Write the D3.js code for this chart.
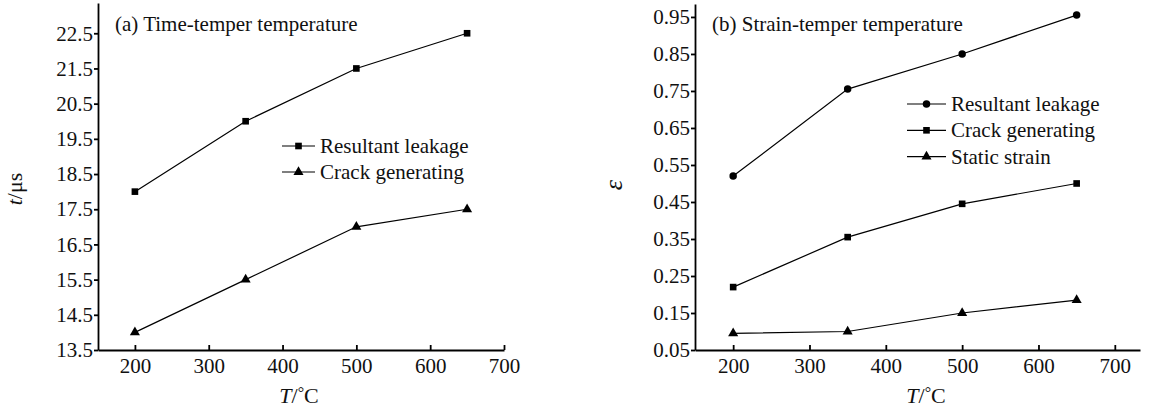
<!DOCTYPE html>
<html>
<head>
<meta charset="utf-8">
<script src="https://cdn.jsdelivr.net/npm/d3@7"></script>
<style>
  body { margin: 0; background: #fff; }
  svg { display: block; }
  .axis path, .axis line { stroke: #000; stroke-width: 1.8; }
</style>
</head>
<body>
<svg width="1152" height="413"></svg>
<script>
// x values (temper temperature, °C)
const temps = [200, 350, 500, 650];
const xTicks = [200, 300, 400, 500, 600, 700];

// panel (a) time, µs
const timeLeak = [18.0, 20.0, 21.5, 22.5];
const timeCrack = [14.0, 15.5, 17.0, 17.5];
const timeTicks = [13.5, 14.5, 15.5, 16.5, 17.5, 18.5, 19.5, 20.5, 21.5, 22.5];

// panel (b) strain
const strainLeak = [0.52, 0.755, 0.85, 0.955];
const strainCrack = [0.22, 0.355, 0.445, 0.50];
const strainStatic = [0.095, 0.10, 0.15, 0.185];
const strainTicks = [0.05, 0.15, 0.25, 0.35, 0.45, 0.55, 0.65, 0.75, 0.85, 0.95];

const serif = '"Liberation Serif", "Times New Roman", serif';
const svg = d3.select('svg');

const symbols = {
  square: d3.symbol().type(d3.symbolSquare).size(44),
  triangle: d3.symbol().type(d3.symbolTriangle).size(44),
  circle: d3.symbol().type(d3.symbolCircle).size(44)
};

function styleText(sel, size) {
  return sel.attr('font-family', serif).attr('font-size', size).attr('fill', '#111');
}

function drawPanel(p) {
  const x = d3.scaleLinear().domain(p.xDomain).range([p.left, p.right]);
  const y = d3.scaleLinear().domain(p.yDomain).range([p.bottom, p.top]);

  // axes
  const gx = svg.append('g').attr('class', 'axis')
    .attr('transform', `translate(0,${p.bottom})`)
    .call(d3.axisBottom(x).tickValues(xTicks).tickSizeInner(-5).tickSizeOuter(0).tickPadding(8));
  styleText(gx.selectAll('text'), 21);

  const gy = svg.append('g').attr('class', 'axis')
    .attr('transform', `translate(${p.left},0)`)
    .call(d3.axisLeft(y).tickValues(p.yTicks).tickFormat(d3.format(p.fmt)).tickSizeInner(4).tickSizeOuter(0).tickPadding(1));
  styleText(gy.selectAll('text'), 21);

  const line = d3.line().x(d => x(d[0])).y(d => y(d[1]));

  p.series.forEach(s => {
    const pts = temps.map((t, i) => [t, s.values[i]]);
    svg.append('path')
      .attr('d', line(pts))
      .attr('fill', 'none')
      .attr('stroke', '#000')
      .attr('stroke-width', 1.2);
    svg.append('g').selectAll('path')
      .data(pts).enter().append('path')
      .attr('d', symbols[s.symbol]())
      .attr('transform', d => `translate(${x(d[0])},${y(d[1])})`)
      .attr('fill', '#000');
  });

  // legend
  p.series.forEach((s, i) => {
    const ly = p.legend.y + i * p.legend.step;
    svg.append('line')
      .attr('x1', p.legend.x).attr('x2', p.legend.x + p.legend.len)
      .attr('y1', ly).attr('y2', ly)
      .attr('stroke', '#000').attr('stroke-width', 1.2);
    svg.append('path')
      .attr('d', symbols[s.symbol]())
      .attr('transform', `translate(${p.legend.x + p.legend.len / 2},${ly})`)
      .attr('fill', '#000');
    styleText(svg.append('text'), 21)
      .attr('x', p.legend.x + p.legend.len + 5)
      .attr('y', ly + 7)
      .text(s.name);
  });

  // title
  styleText(svg.append('text'), 21)
    .attr('x', p.left + 17).attr('y', 31)
    .text(p.title);

  // x label
  const xl = styleText(svg.append('text'), 22)
    .attr('x', p.xLabelX)
    .attr('y', 403)
    .attr('text-anchor', 'middle');
  xl.append('tspan').attr('font-style', 'italic').text('T');
  xl.append('tspan').text('/');
  xl.append('tspan').attr('font-size', 16).attr('dy', -5).text('°');
  xl.append('tspan').attr('dy', 5).text('C');

  // y label
  const yl = styleText(svg.append('text'), p.yLabel.size)
    .attr('transform', `translate(${p.yLabel.x},${p.yLabel.y}) rotate(-90)`)
    .attr('text-anchor', 'middle');
  p.yLabel.parts.forEach(part => {
    yl.append('tspan').attr('font-style', part.italic ? 'italic' : 'normal').text(part.t);
  });
}

drawPanel({
  left: 98, right: 504, top: 3, bottom: 350,
  xDomain: [150, 700], yDomain: [13.5, 23.36],
  yTicks: timeTicks, fmt: '.1f',
  title: '(a) Time-temper temperature',
  xLabelX: 299,
  series: [
    { name: 'Resultant leakage', values: timeLeak, symbol: 'square' },
    { name: 'Crack generating', values: timeCrack, symbol: 'triangle' }
  ],
  legend: { x: 282, y: 146, step: 26, len: 33 },
  yLabel: { x: 22, y: 189, size: 22, parts: [{ t: 't', italic: true }, { t: '/μs' }] }
});

drawPanel({
  left: 695, right: 1140, top: 4, bottom: 350,
  xDomain: [150, 733], yDomain: [0.05, 0.985],
  yTicks: strainTicks, fmt: '.2f',
  title: '(b) Strain-temper temperature',
  xLabelX: 926,
  series: [
    { name: 'Resultant leakage', values: strainLeak, symbol: 'circle' },
    { name: 'Crack generating', values: strainCrack, symbol: 'square' },
    { name: 'Static strain', values: strainStatic, symbol: 'triangle' }
  ],
  legend: { x: 907, y: 104, step: 26.3, len: 39 },
  yLabel: { x: 622, y: 185, size: 26, parts: [{ t: 'ε', italic: true }] }
});
</script>
</body>
</html>
